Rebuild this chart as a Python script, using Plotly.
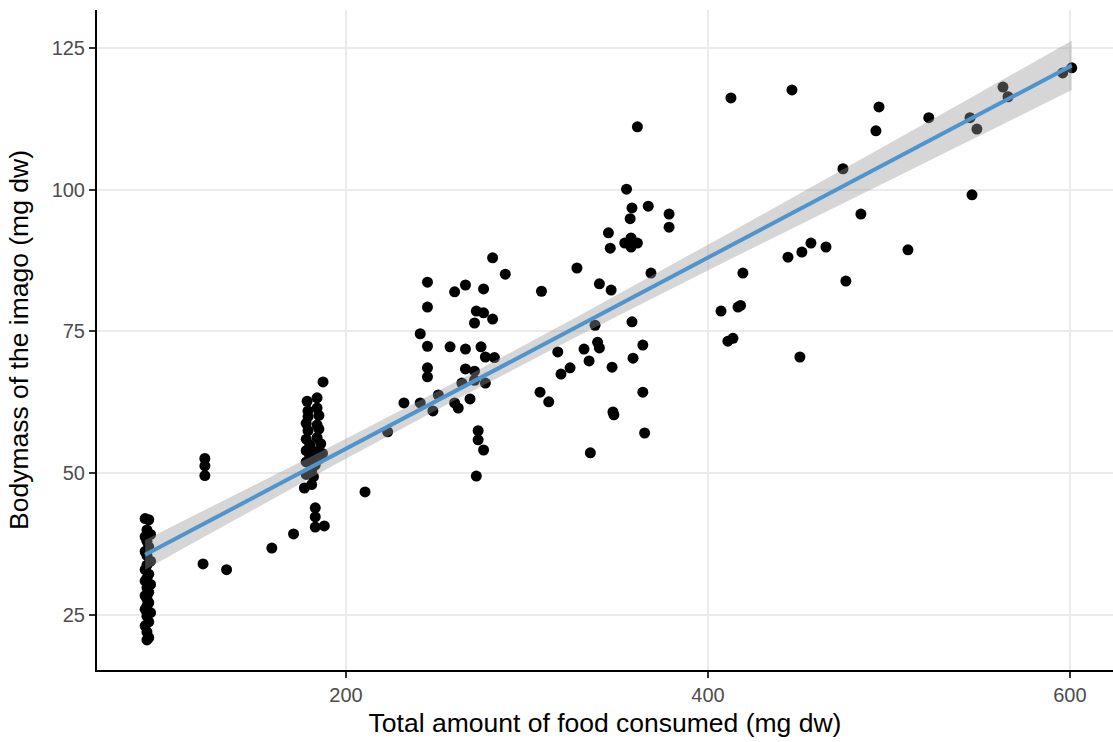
import numpy as np
import plotly.graph_objects as go

# Left cluster (~90 mg)
x_a = [89, 91, 90, 92, 89, 90, 91, 89, 90, 92, 90, 89, 91, 90, 89, 92, 90, 91, 89, 90,
       91, 90, 89, 92, 90, 91, 89, 90, 91, 90]
y_a = [42.0, 41.8, 40.0, 39.2, 38.8, 38.0, 37.0, 36.2, 35.5, 34.5, 33.8, 33.0, 32.2, 31.5,
       31.0, 30.4, 29.8, 29.0, 28.4, 27.8, 27.2, 26.6, 26.0, 25.4, 24.8, 23.8, 23.1, 22.0,
       21.0, 20.6]

# Cluster around 180 mg and nearby isolated points
x_b = [178.5, 184, 179, 184, 179, 185, 178, 184, 179, 185, 178, 184, 180, 186, 178, 183,
       187, 180, 185, 178, 183, 181, 186, 178, 182, 177, 181, 183, 183, 183, 188, 187.3,
       122, 122, 122, 121, 134, 159, 171, 210.5, 223, 232]
y_b = [62.7, 63.3, 61.0, 61.5, 60.0, 60.2, 58.8, 58.5, 57.5, 57.8, 56.0, 56.3, 55.0, 55.2,
       54.0, 53.8, 53.5, 53.0, 52.5, 52.0, 51.5, 50.5, 52.8, 49.8, 49.4, 47.4, 48.0, 43.9,
       42.3, 40.5, 40.7, 66.1,
       52.6, 51.3, 49.6, 34.0, 33.0, 36.8, 39.3, 46.7, 57.3, 62.4]

# Cluster 240-290 mg
x_c = [281, 288, 245, 266, 260, 276, 245, 272, 276, 281, 271, 241, 245, 257.5, 266, 274.6,
       277, 282, 245, 245, 266, 271, 271, 264, 277, 251, 248, 241, 260, 262, 268.5, 273,
       273, 276, 272]
y_c = [88.0, 85.1, 83.7, 83.2, 82.0, 82.5, 79.3, 78.6, 78.3, 77.2, 76.5, 74.6, 72.4, 72.3,
       71.9, 72.3, 70.5, 70.4, 68.6, 67.0, 68.4, 68.0, 66.4, 65.9, 65.9, 63.8, 61.0, 62.4,
       62.4, 61.5, 63.1, 57.5, 55.9, 54.1, 49.5]

# Cluster 300-380 mg
x_d = [361, 355, 358, 367, 378.5, 378.5, 357, 345, 346, 354, 357.5, 357.5, 361, 327.6,
       368.5, 308, 340, 346.5, 337.6, 358, 339, 340, 317, 331.5, 334.3, 364, 358.6, 347,
       323.8, 318.8, 307.2, 312, 364, 347.5, 348, 365, 335]
y_d = [111.1, 100.1, 96.8, 97.1, 95.7, 93.4, 94.9, 92.4, 89.7, 90.6, 91.5, 89.9, 90.6, 86.2,
       85.3, 82.1, 83.4, 82.3, 76.1, 76.7, 73.1, 72.1, 71.4, 71.9, 69.8, 72.6, 70.3, 68.7,
       68.6, 67.5, 64.3, 62.6, 64.3, 60.8, 60.3, 57.1, 53.6]

# High consumption (> 400 mg)
x_e = [412.7, 446.4, 494.5, 492.8, 474.6, 484.5, 510.5, 444.2, 451.9, 456.9, 465.2, 419.3,
       476.2, 416.6, 418, 407.2, 411, 413.8, 450.8,
       522, 544.8, 548.6, 563, 565.8, 596, 601, 545.9]
y_e = [116.2, 117.6, 114.6, 110.4, 103.7, 95.7, 89.4, 88.1, 89.0, 90.6, 89.9, 85.3,
       83.9, 79.3, 79.6, 78.6, 73.3, 73.8, 70.5,
       112.7, 112.7, 110.7, 118.1, 116.4, 120.6, 121.5, 99.1]

x_ticks = [200, 400, 600]
y_ticks = [25, 50, 75, 100, 125]

x = np.array(x_a + x_b + x_c + x_d + x_e, dtype=float)
y = np.array(y_a + y_b + y_c + y_d + y_e, dtype=float)

# linear model + 95% CI (like geom_smooth(method="lm"))
n = len(x)
b1, b0 = np.polyfit(x, y, 1)
resid = y - (b0 + b1 * x)
s = np.sqrt(np.sum(resid ** 2) / (n - 2))
xbar = x.mean()
sxx = np.sum((x - xbar) ** 2)
xs = np.linspace(x.min(), x.max(), 80)
ys = b0 + b1 * xs
se = s * np.sqrt(1.0 / n + (xs - xbar) ** 2 / sxx)
t = 1.974
lo, hi = ys - t * se, ys + t * se

fig = go.Figure()
fig.add_trace(go.Scatter(x=x, y=y, mode="markers",
                         marker=dict(color="black", size=11, line=dict(width=0)),
                         showlegend=False))
fig.add_trace(go.Scatter(x=np.concatenate([xs, xs[::-1]]), y=np.concatenate([hi, lo[::-1]]),
                         fill="toself", fillcolor="rgba(153,153,153,0.4)",
                         line=dict(width=0), mode="lines", showlegend=False, hoverinfo="skip"))
fig.add_trace(go.Scatter(x=xs, y=ys, mode="lines", line=dict(color="#4F94CD", width=4),
                         showlegend=False))

font = "Liberation Sans, Arial, sans-serif"
fig.update_layout(
    width=1113, height=742,
    margin=dict(l=97, r=0, t=10, b=72),
    paper_bgcolor="white", plot_bgcolor="white",
    font=dict(family=font),
    xaxis=dict(range=[62.4, 623.8], tickvals=x_ticks, ticktext=[str(v) for v in x_ticks],
               automargin=False,
               showgrid=True, gridcolor="#EBEBEB", gridwidth=1.5, zeroline=False,
               showline=True, linecolor="black", linewidth=2,
               ticks="outside", ticklen=6, tickwidth=1.5, tickcolor="#333333",
               tickfont=dict(size=20, color="#4D4D4D", family=font),
               title=dict(text="Total amount of food consumed (mg dw)", standoff=8,
                          font=dict(size=26.5, color="black", family=font))),
    yaxis=dict(range=[15.3, 131.7], tickvals=y_ticks, ticktext=[str(v) for v in y_ticks],
               automargin=False,
               showgrid=True, gridcolor="#EBEBEB", gridwidth=1.5, zeroline=False,
               showline=True, linecolor="black", linewidth=2,
               ticks="outside", ticklen=6, tickwidth=1.5, tickcolor="#333333",
               tickfont=dict(size=20, color="#4D4D4D", family=font),
               title=dict(text="Bodymass of the imago (mg dw)",
                          font=dict(size=26.5, color="black", family=font))),
)
fig.write_html("out.html", config={"displayModeBar": False},
               post_script="document.body.style.margin='0';")
